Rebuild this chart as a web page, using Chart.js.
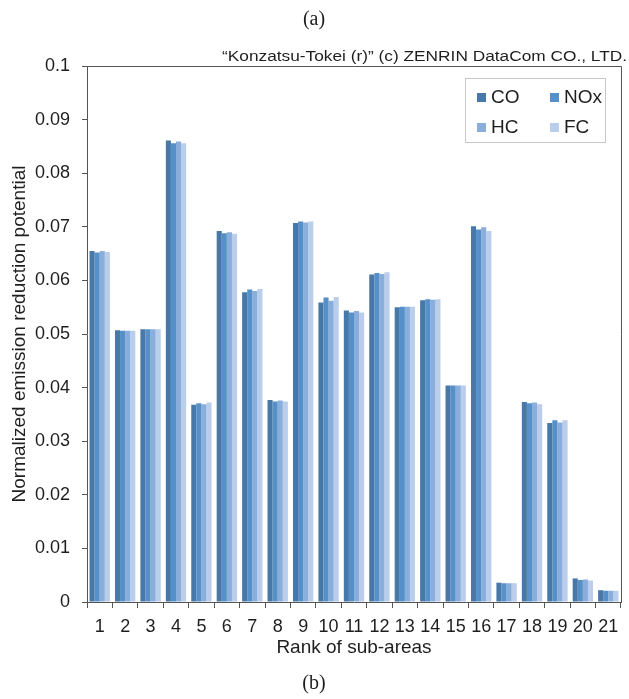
<!DOCTYPE html>
<html>
<head>
<meta charset="utf-8">
<script src="https://cdn.jsdelivr.net/npm/chart.js@4"></script>
<style>
  html, body { margin:0; padding:0; background:#fff; }
  #wrap { position:relative; width:629px; height:699px; }
</style>
</head>
<body>
<div id="wrap"><canvas id="chart" width="629" height="699"></canvas></div>
<script>
// data
const ranks = ['1','2','3','4','5','6','7','8','9','10','11','12','13','14','15','16','17','18','19','20','21'];
const coVals  = [0.0655,0.0507,0.0509,0.0861,0.0368,0.0692,0.0578,0.0377,0.0707,0.0559,0.0544,0.0611,0.0550,0.0563,0.0404,0.0701,0.0036,0.0373,0.0334,0.0044,0.0022];
const noxVals = [0.0652,0.0506,0.0509,0.0856,0.0371,0.0688,0.0583,0.0374,0.0710,0.0568,0.0540,0.0614,0.0551,0.0565,0.0404,0.0695,0.0035,0.0371,0.0339,0.0041,0.0021];
const hcVals  = [0.0655,0.0506,0.0509,0.0859,0.0369,0.0690,0.0580,0.0376,0.0708,0.0562,0.0543,0.0612,0.0551,0.0564,0.0404,0.0699,0.0035,0.0372,0.0335,0.0042,0.0021];
const fcVals  = [0.0653,0.0506,0.0509,0.0856,0.0372,0.0687,0.0584,0.0374,0.0710,0.0569,0.0540,0.0615,0.0551,0.0565,0.0404,0.0692,0.0035,0.0369,0.0339,0.0040,0.0021];
const seriesNames = ['CO','NOx','HC','FC'];
const colors = ['#4878a8','#5590c8','#8aaedc','#bacdea'];

const FONT = '"Liberation Sans", Arial, sans-serif';
const SERIF = '"Liberation Serif", "Times New Roman", serif';
const TXT = '#1e1e1e';
const AXIS = '#555';

// frame, legend box and captions
const extras = {
  id: 'extras',
  afterDraw(chart){
    const ctx = chart.ctx, a = chart.chartArea;
    ctx.save();
    // top + right frame lines
    ctx.strokeStyle = AXIS; ctx.lineWidth = 1;
    ctx.beginPath();
    ctx.moveTo(a.left, a.top + 0.5); ctx.lineTo(a.right + 0.5, a.top + 0.5);
    ctx.lineTo(a.right + 0.5, a.bottom);
    ctx.stroke();

    // legend
    ctx.strokeStyle = '#c8c8c8';
    ctx.strokeRect(465.5, 78.5, 140, 64);
    ctx.font = '19px ' + FONT; ctx.fillStyle = TXT; ctx.textBaseline = 'middle'; ctx.textAlign = 'left';
    const pos = [[477,97],[550,97],[477,127],[550,127]];
    chart.data.datasets.forEach((ds, i) => {
      const [x, y] = pos[i];
      ctx.fillStyle = ds.backgroundColor;
      ctx.fillRect(x, y - 4, 9, 9);
      ctx.fillStyle = TXT;
      ctx.fillText(ds.label, x + 14, y + 1);
    });

    // captions
    ctx.font = '20px ' + SERIF; ctx.textAlign = 'center';
    ctx.fillText('(a)', 314, 20);
    ctx.fillText('(b)', 314, 684);

    // copyright note (condensed)
    const note = '\u201cKonzatsu-Tokei (r)\u201d (c) ZENRIN DataCom CO., LTD.';
    ctx.font = '14px ' + FONT;
    const w = ctx.measureText(note).width;
    const target = 405;
    ctx.translate(627, 57);
    ctx.scale(target / w, 1);
    ctx.textAlign = 'right';
    ctx.fillText(note, 0, 0);
    ctx.restore();
  }
};

new Chart(document.getElementById('chart'), {
  type: 'bar',
  data: {
    labels: ranks,
    datasets: [coVals, noxVals, hcVals, fcVals].map((d, i) => ({
      label: seriesNames[i],
      data: d,
      backgroundColor: colors[i],
      borderWidth: 0,
      categoryPercentage: 0.8,
      barPercentage: 1.0
    }))
  },
  options: {
    responsive: false,
    animation: false,
    layout: { padding: { left: 0, right: 8, top: 66, bottom: 40 } },
    plugins: { legend: { display: false }, tooltip: { enabled: false } },
    scales: {
      x: {
        grid: { display: true, drawOnChartArea: false, tickLength: 6, color: AXIS, offset: true },
        border: { color: AXIS, width: 1 },
        ticks: { color: TXT, font: { family: FONT, size: 18 }, padding: 8, maxRotation: 0, autoSkip: false },
        title: { display: true, text: 'Rank of sub-areas', color: TXT, font: { family: FONT, size: 19 }, padding: { top: 0, bottom: 0 } },
        afterFit(s){ s.height = 57; }
      },
      y: {
        min: 0, max: 0.1,
        grid: { display: true, drawOnChartArea: false, tickLength: 5, color: AXIS },
        border: { color: AXIS, width: 1 },
        ticks: {
          stepSize: 0.01, color: TXT, font: { family: FONT, size: 18 }, padding: 12,
          callback: v => String(Math.round(v * 100) / 100)
        },
        title: { display: true, text: 'Normalized emission reduction potential', color: TXT, font: { family: FONT, size: 19 }, padding: { top: 8, bottom: 0 } },
        afterFit(s){ s.width = 87; }
      }
    }
  },
  plugins: [extras]
});
</script>
</body>
</html>
